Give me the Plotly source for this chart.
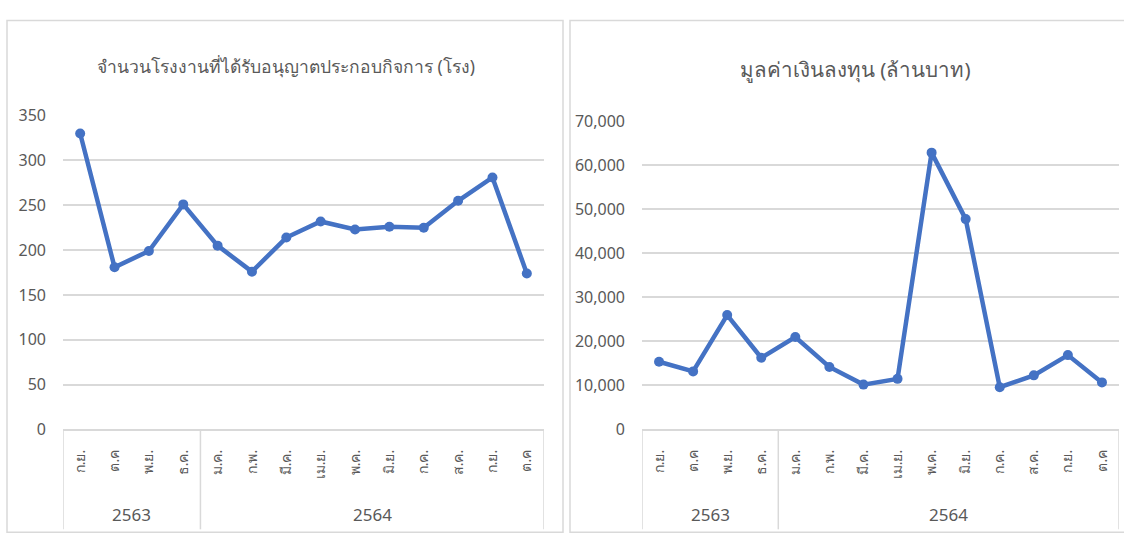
import plotly.graph_objects as go

years = ["2563"] * 4 + ["2564"] * 10
months = ["ก.ย.", "ต.ค", "พ.ย.", "ธ.ค.", "ม.ค.", "ก.พ.", "มี.ค.", "เม.ย.",
          "พ.ค.", "มิ.ย.", "ก.ค.", "ส.ค.", "ก.ย.", "ต.ค"]
factories = [330, 181, 199, 251, 205, 176, 214, 232, 223, 226, 225, 255, 281, 174]
investment = [15400, 13200, 26000, 16300, 21000, 14200, 10200, 11500,
              62900, 47800, 9600, 12300, 16900, 10700]

title_left = "จำนวนโรงงานที่ได้รับอนุญาตประกอบกิจการ (โรง)"
title_right = "มูลค่าเงินลงทุน (ล้านบาท)"

W, H = 1124, 548
BLUE = "#4472C4"
GRID = "#D9D9D9"
TXT = "#595959"
FONT = "Noto Sans, Open Sans, sans-serif"

def px(x):
    return x / W

def py(y):
    return 1 - y / H

idx = list(range(len(months)))

# year groups: (label, first index, last index)
groups = []
for i, yr in enumerate(years):
    if groups and groups[-1][0] == yr:
        groups[-1][2] = i
    else:
        groups.append([yr, i, i])

fig = go.Figure()
fig.add_trace(go.Scatter(x=idx, y=factories, mode="lines+markers",
                         line=dict(color=BLUE, width=4.5), marker=dict(size=10, color=BLUE),
                         xaxis="x", yaxis="y", showlegend=False))
fig.add_trace(go.Scatter(x=idx, y=investment, mode="lines+markers",
                         line=dict(color=BLUE, width=4.5), marker=dict(size=10, color=BLUE),
                         xaxis="x2", yaxis="y2", showlegend=False))

xcommon = dict(showline=True, linecolor=GRID, linewidth=1.5, showgrid=False, zeroline=False,
               tickmode="array", tickvals=idx, ticktext=months, tickangle=-90,
               range=[-0.5, len(months) - 0.5], ticks="", ticklabelstandoff=13,
               tickfont=dict(size=14, color=TXT, family=FONT))
ycommon = dict(showgrid=True, gridcolor=GRID, gridwidth=1.5, zeroline=False, showline=False,
               tickfont=dict(size=16, color=TXT, family=FONT), ticklabelstandoff=16)

shapes = [
    dict(type="rect", xref="paper", yref="paper", x0=px(7), x1=px(563), y0=py(543), y1=py(10),
         line=dict(color=GRID, width=1.5), layer="below"),
    dict(type="rect", xref="paper", yref="paper", x0=px(570), x1=px(1130), y0=py(543), y1=py(10),
         line=dict(color=GRID, width=1.5), layer="below"),
]
annotations = [
    dict(text=title_left, xref="paper", yref="paper", x=px(286), y=py(57),
         xanchor="center", yanchor="middle",
         showarrow=False, font=dict(size=17.5, color=TXT, family=FONT)),
    dict(text=title_right, xref="paper", yref="paper", x=px(855), y=py(60),
         xanchor="center", yanchor="middle",
         showarrow=False, font=dict(size=20.5, color=TXT, family=FONT)),
]
for xa in ["x", "x2"]:
    bounds = [groups[0][1] - 0.5] + [g[2] + 0.5 for g in groups]
    for b in bounds:
        shapes.append(dict(type="line", xref=xa, yref="paper", x0=b, x1=b,
                           y0=py(436), y1=py(540), line=dict(color=GRID, width=1.5)))
    for g in groups:
        annotations.append(dict(text=g[0], xref=xa, yref="paper", x=(g[1] + g[2]) / 2,
                                y=py(525), xanchor="center", yanchor="middle", showarrow=False,
                                font=dict(size=17, color=TXT, family=FONT)))

fig.update_layout(
    width=W, height=H, margin=dict(l=0, r=0, t=0, b=0),
    paper_bgcolor="white", plot_bgcolor="white",
    font=dict(family=FONT, color=TXT),
    xaxis=dict(domain=[px(63), px(544)], anchor="y", **xcommon),
    yaxis=dict(domain=[py(436), py(109)], anchor="x", range=[0, 350], dtick=50, **ycommon),
    xaxis2=dict(domain=[px(642), px(1119)], anchor="y2", **xcommon),
    yaxis2=dict(domain=[py(436), py(115)], anchor="x2", range=[0, 70000], dtick=10000,
                tickformat=",d", **ycommon),
    shapes=shapes,
    annotations=annotations,
)

fig.write_html("out.html", post_script="document.body.style.margin='0';",
               config={"displayModeBar": False})
